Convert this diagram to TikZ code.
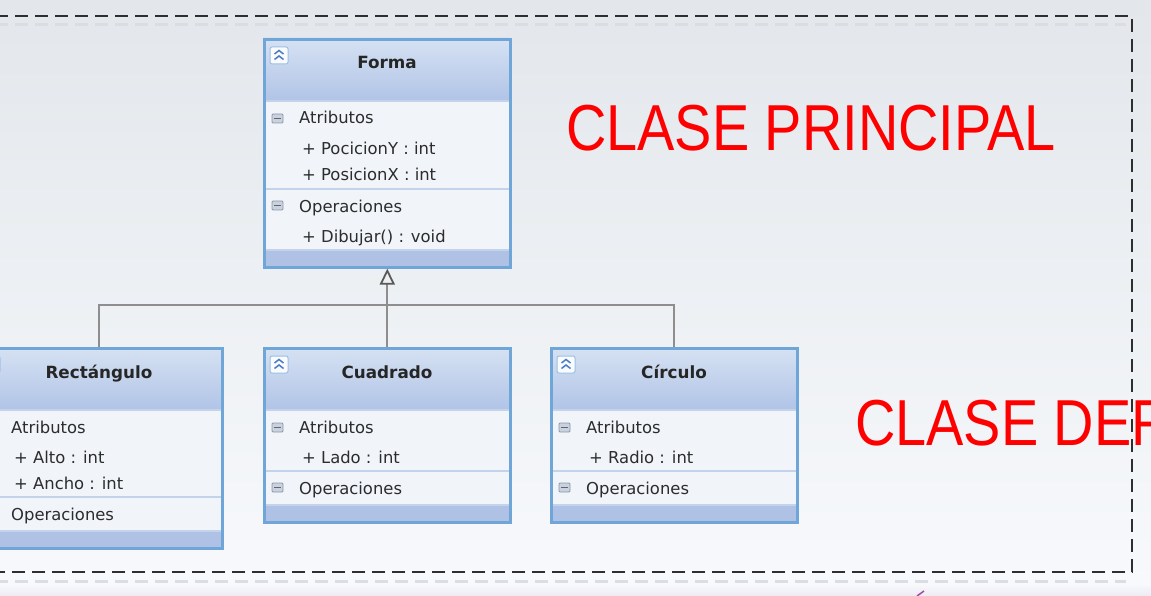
\documentclass[tikz,border=0pt]{standalone}
\usepackage{fontspec}
\setmainfont{DejaVu Sans}
\newfontfamily\redfont[FakeStretch=0.86]{Liberation Sans}
\usetikzlibrary{arrows.meta}
\definecolor{bgtop}{HTML}{E3E7EB}
\definecolor{bgbot}{HTML}{F7F9FC}
\definecolor{bandbot}{HTML}{ECEBF3}
\definecolor{hdtop}{HTML}{D6E2F3}
\definecolor{hdbot}{HTML}{B1C4E7}
\definecolor{bodyc}{HTML}{F1F5FA}
\definecolor{bandc}{HTML}{AFC2E5}
\definecolor{framec}{HTML}{70A5D8}
\definecolor{sepc}{HTML}{C2D3EA}
\definecolor{txtc}{HTML}{2C2C2C}
\definecolor{connc}{HTML}{8E8E8E}
\definecolor{dashc}{HTML}{2F2F2F}
\definecolor{shadc}{HTML}{DADEE2}
\definecolor{redc}{HTML}{FF0000}
\definecolor{chevc}{HTML}{4C7CC4}
\definecolor{icofill}{HTML}{C9D2DE}
\definecolor{icodraw}{HTML}{8A98AC}
\tikzset{
  umlframe/.style={draw=framec, line width=2.6pt, inner sep=0pt},
  sepline/.style={draw=sepc, line width=1.4pt},
  txt/.style={text=txtc, inner sep=0pt, anchor=base west, font=\fontsize{16.4}{19}\selectfont},
  ttl/.style={text=black!85, inner sep=0pt, anchor=base, font=\fontsize{16.8}{19}\selectfont\bfseries},
  icobox/.style={draw=framec!70, fill=white!85!hdtop, line width=1pt, rounded corners=2pt},
  chev/.style={draw=chevc, line width=1.5pt},
  secico/.style={draw=icodraw, fill=icofill, line width=0.8pt, rounded corners=1pt},
  conn/.style={draw=connc, line width=2pt},
  dashline/.style={draw=dashc, line width=2.8pt, dash pattern=on 13pt off 7pt},
  dashshadow/.style={draw=shadc, line width=3pt, dash pattern=on 13pt off 7pt},
  redtxt/.style={text=redc, inner sep=0pt, anchor=base west, font=\redfont\fontsize{65}{70}\selectfont},
}
% #1 name, #2 left, #3 top, #4 height, #5 title, #6 separator offset
\newcommand\umlcls[6]{%
\begin{scope}[shift={(#2,#3)}]
  \fill[bodyc] (0,0) rectangle (246,#4);
  \shade[top color=hdtop, bottom color=hdbot] (0,0) rectangle (246,63);
  \fill[bandc] (0,{#4-16}) rectangle (246,#4);
  \draw[sepline] (0,63) -- (246,63);
  \draw[sepline] (0,#6) -- (246,#6);
  \draw[sepline] (0,{#4-16}) -- (246,{#4-16});
  \node[umlframe, minimum width=246pt, minimum height=#4pt, anchor=north west] (#1) at (0,0) {};
  \draw[icobox] (7,9) rectangle (25,26);
  \draw[chev] (11.5,16) -- (16,12.5) -- (20.5,16);
  \draw[chev] (11.5,21.5) -- (16,18) -- (20.5,21.5);
  \draw[secico] (9,76) rectangle (20,85);
  \draw[black!60, line width=1.2pt] (11,80.5) -- (18,80.5);
  \draw[secico] (9,{#6+12}) rectangle (20,{#6+21});
  \draw[black!60, line width=1.2pt] (11,{#6+16.5}) -- (18,{#6+16.5});
  \node[ttl] (#1t) at (124,31) {#5};
  \node[txt] (#1a) at (36,86) {Atributos};
  \node[txt] (#1o) at (36,{#6+23}) {Operaciones};
\end{scope}}
\begin{document}
\begin{tikzpicture}[x=1pt, y=-1pt]
\useasboundingbox (0,0) rectangle (1151,596);
\clip (0,0) rectangle (1151,596);
\shade[top color=bgtop, bottom color=bgbot] (0,0) rectangle (1151,584);
\shade[top color=bgbot, bottom color=bandbot] (0,584) rectangle (1151,596);
% dashed frame
\draw[dashshadow] (-5,25) -- (1126,25);
\draw[dashshadow] (-5,581) -- (1126,581);
\draw[dashline] (-5,16) -- (1132,16) -- (1132,572) -- (-5,572);
% classes
\umlcls{forma}{263}{38}{228}{Forma}{151}
\umlcls{rect}{-25}{347}{200}{Rectángulo}{150}
\umlcls{cuad}{263}{347}{174}{Cuadrado}{124}
\umlcls{circ}{550}{347}{174}{Círculo}{124}
% members
\node[txt] (fa1) at (302,155) {+ PocicionY : int};
\node[txt] (fa2) at (302,181) {+ PosicionX : int};
\node[txt] (fo1) at (302,243) {+ Dibujar() : void};
\node[txt] (ra1) at (14,463) {+ Alto : int};
\node[txt] (ra2) at (14,489) {+ Ancho : int};
\node[txt] (ca1) at (302,463) {+ Lado : int};
\node[txt] (ka1) at (589,463) {+ Radio : int};
% connectors
\coordinate (bar) at (386,305);
\draw[conn] (rect.north) |- (bar) -| (circ.north);
\draw[conn, -{Triangle[open, length=16pt, width=15pt, color=black!65, line width=1.8pt]}] (cuad.north) -- (forma.south);
% labels
\node[redtxt] (lp) at (566,151) {CLASE PRINCIPAL};
\node[redtxt] (ld) at (855,445) {CLASE DER};
\draw[violet!70, line width=1.5pt] (917,596) -- (924,591);
\end{tikzpicture}
\end{document}
